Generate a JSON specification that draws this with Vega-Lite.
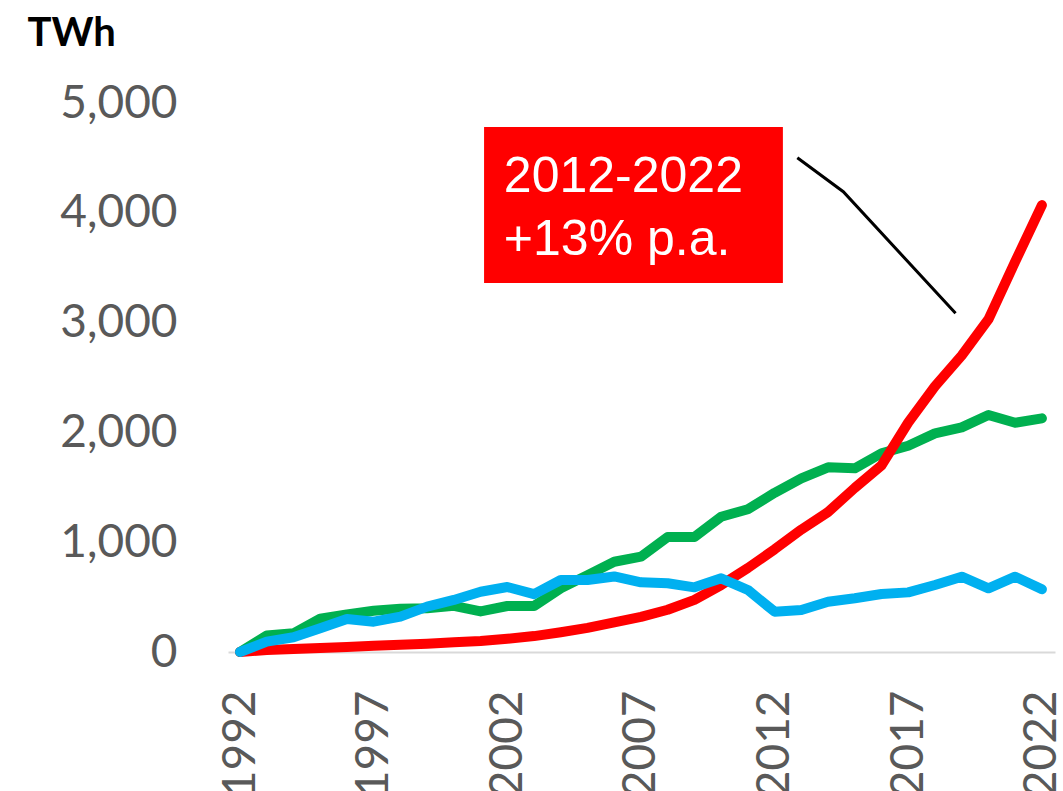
{
  "$schema": "https://vega.github.io/schema/vega-lite/v6.json",
  "autosize": "none",
  "width": 827,
  "height": 549,
  "padding": {"left": 228, "top": 103, "right": 8, "bottom": 139},
  "background": "white",
  "config": {"view": {"stroke": null}},
  "datasets": {
    "series": [
      {"year": 1992, "red": 0, "green": 0, "blue": 0},
      {"year": 1993, "red": 18, "green": 150, "blue": 94},
      {"year": 1994, "red": 28, "green": 170, "blue": 134},
      {"year": 1995, "red": 36, "green": 303, "blue": 216},
      {"year": 1996, "red": 46, "green": 343, "blue": 300},
      {"year": 1997, "red": 56, "green": 375, "blue": 276},
      {"year": 1998, "red": 66, "green": 395, "blue": 322},
      {"year": 1999, "red": 76, "green": 398, "blue": 413},
      {"year": 2000, "red": 88, "green": 420, "blue": 474},
      {"year": 2001, "red": 100, "green": 370, "blue": 549},
      {"year": 2002, "red": 120, "green": 419, "blue": 592},
      {"year": 2003, "red": 145, "green": 419, "blue": 527},
      {"year": 2004, "red": 180, "green": 580, "blue": 656},
      {"year": 2005, "red": 220, "green": 700, "blue": 656},
      {"year": 2006, "red": 270, "green": 822, "blue": 688},
      {"year": 2007, "red": 320, "green": 868, "blue": 635},
      {"year": 2008, "red": 385, "green": 1048, "blue": 626},
      {"year": 2009, "red": 475, "green": 1048, "blue": 589},
      {"year": 2010, "red": 610, "green": 1232, "blue": 671},
      {"year": 2011, "red": 765, "green": 1300, "blue": 565},
      {"year": 2012, "red": 935, "green": 1450, "blue": 367},
      {"year": 2013, "red": 1115, "green": 1582, "blue": 383},
      {"year": 2014, "red": 1275, "green": 1682, "blue": 458},
      {"year": 2015, "red": 1495, "green": 1673, "blue": 489},
      {"year": 2016, "red": 1700, "green": 1810, "blue": 528},
      {"year": 2017, "red": 2090, "green": 1879, "blue": 543},
      {"year": 2018, "red": 2420, "green": 1991, "blue": 610},
      {"year": 2019, "red": 2700, "green": 2046, "blue": 686},
      {"year": 2020, "red": 3030, "green": 2158, "blue": 580},
      {"year": 2021, "red": 3555, "green": 2088, "blue": 686},
      {"year": 2022, "red": 4070, "green": 2128, "blue": 571}
    ],
    "box": [{"x": 2001.13, "x2": 2012.31, "y": 4781, "y2": 3361}],
    "labels": [
      {"x": 2001.87, "y": 4189, "label": "2012-2022"},
      {"x": 2001.87, "y": 3616, "label": "+13% p.a."}
    ],
    "pointer": [
      {"order": 1, "x": 2012.85, "y": 4502},
      {"order": 2, "x": 2014.57, "y": 4192},
      {"order": 3, "x": 2018.77, "y": 3085}
    ]
  },
  "layer": [
    {
      "data": {"name": "series"},
      "mark": {"type": "line", "color": "#00B050", "strokeWidth": 10, "strokeCap": "round", "strokeJoin": "round"},
      "encoding": {
        "x": {
          "field": "year", "type": "quantitative",
          "scale": {"domain": [1991.55, 2022.49], "nice": false, "zero": false},
          "axis": {
            "values": [1992, 1997, 2002, 2007, 2012, 2017, 2022],
            "format": "d", "title": null, "grid": false, "ticks": false, "tickSize": 0,
            "domain": true, "domainColor": "#D9D9D9", "domainWidth": 2,
            "labelAngle": -90, "labelAlign": "right", "labelBaseline": "middle",
            "labelPadding": 38, "labelFont": "Lato", "labelFontSize": 46,
            "labelColor": "#595959", "labelOverlap": false, "labelFlush": false
          }
        },
        "y": {
          "field": "green", "type": "quantitative",
          "scale": {"domain": [0, 5000], "nice": false},
          "axis": {
            "values": [0, 1000, 2000, 3000, 4000, 5000],
            "format": ",.0f", "grid": false, "ticks": false, "tickSize": 0, "domain": false,
            "labelPadding": 51, "labelFont": "Lato", "labelFontSize": 46,
            "labelColor": "#595959", "labelOverlap": false, "labelFlush": false,
            "title": "TWh", "titleAngle": 0, "titleAlign": "left", "titleBaseline": "alphabetic",
            "titleX": -201, "titleY": -58, "titleFont": "Lato", "titleFontSize": 40,
            "titleFontWeight": "bold", "titleColor": "#000000"
          }
        }
      }
    },
    {
      "data": {"name": "series"},
      "mark": {"type": "line", "color": "#FF0000", "strokeWidth": 10, "strokeCap": "round", "strokeJoin": "round"},
      "encoding": {
        "x": {"field": "year", "type": "quantitative"},
        "y": {"field": "red", "type": "quantitative"}
      }
    },
    {
      "data": {"name": "series"},
      "mark": {"type": "line", "color": "#00B0F0", "strokeWidth": 10, "strokeCap": "round", "strokeJoin": "round"},
      "encoding": {
        "x": {"field": "year", "type": "quantitative"},
        "y": {"field": "blue", "type": "quantitative"}
      }
    },
    {
      "data": {"name": "box"},
      "mark": {"type": "rect", "color": "#FF0000"},
      "encoding": {
        "x": {"field": "x", "type": "quantitative"},
        "x2": {"field": "x2"},
        "y": {"field": "y", "type": "quantitative"},
        "y2": {"field": "y2"}
      }
    },
    {
      "data": {"name": "labels"},
      "mark": {"type": "text", "color": "white", "font": "Liberation Sans", "fontSize": 50, "align": "left", "baseline": "alphabetic"},
      "encoding": {
        "x": {"field": "x", "type": "quantitative"},
        "y": {"field": "y", "type": "quantitative"},
        "text": {"field": "label"}
      }
    },
    {
      "data": {"name": "pointer"},
      "mark": {"type": "line", "color": "#000000", "strokeWidth": 3},
      "encoding": {
        "x": {"field": "x", "type": "quantitative"},
        "y": {"field": "y", "type": "quantitative"},
        "order": {"field": "order"}
      }
    }
  ]
}
